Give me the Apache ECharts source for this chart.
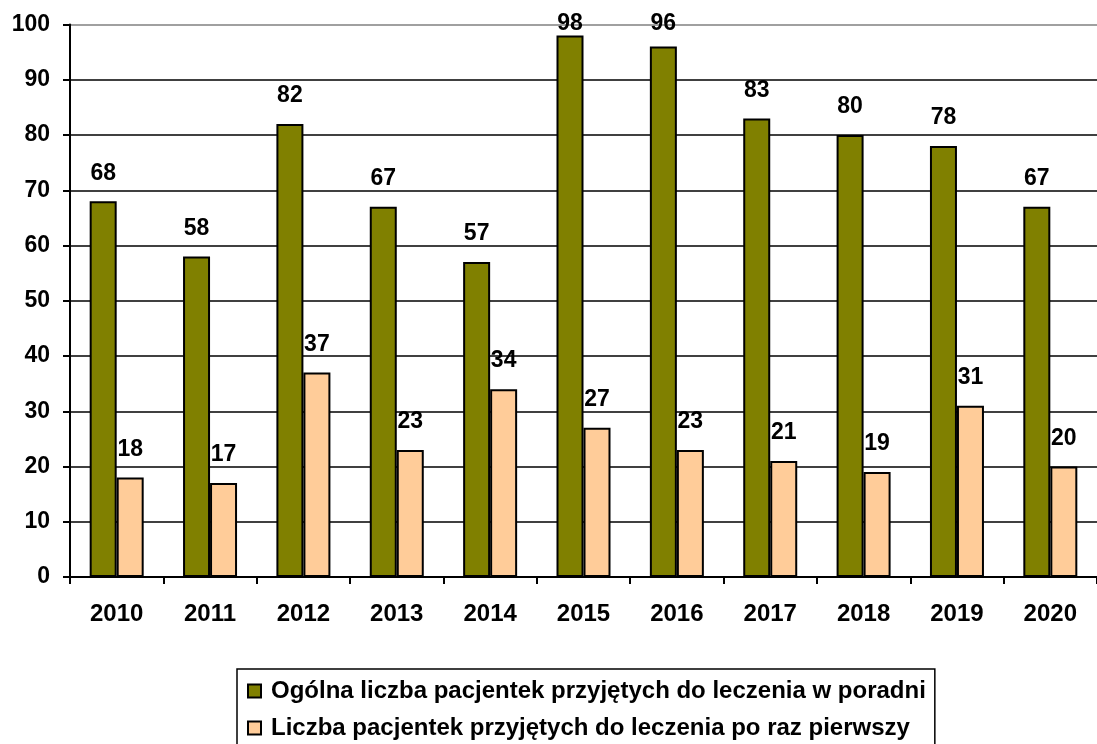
<!DOCTYPE html>
<html>
<head>
<meta charset="utf-8">
<script src="https://cdn.jsdelivr.net/npm/echarts@6/dist/echarts.min.js"></script>
<style>
  html, body { margin: 0; padding: 0; background: #fff; }
  #chart { width: 1097px; height: 744px; }
</style>
</head>
<body>
<div id="chart"></div>
<script>
  var years = ['2010', '2011', '2012', '2013', '2014', '2015', '2016', '2017', '2018', '2019', '2020'];
  var totalPatients = [68, 58, 82, 67, 57, 98, 96, 83, 80, 78, 67];
  var firstTimePatients = [18, 17, 37, 23, 34, 27, 23, 21, 19, 31, 20];
  var seriesNames = [
    'Ogólna liczba pacjentek przyjętych do leczenia w poradni',
    'Liczba pacjentek przyjętych do leczenia po raz pierwszy'
  ];

  var font = '"Liberation Sans", Arial, sans-serif';
  var myChart = echarts.init(document.getElementById('chart'));

  // like excel: a label is pushed down when it would leave the plot area
  function barData(values) {
    return values.map(function (v) {
      var barTop = 577 - v * 5.525;
      var d = Math.min(16.5, Math.max(0, barTop - 11.5 - 24));
      return {value: v, label: {distance: d}};
    });
  }

  var labelStyle = {
    show: true,
    position: 'top',
    color: '#000',
    fontFamily: font,
    fontWeight: 'bold',
    fontSize: 23
  };

  myChart.setOption({
    animation: false,
    backgroundColor: '#fff',
    grid: {
      left: 70,
      right: -14,
      top: 24.5,
      bottom: 167
    },
    legend: {
      orient: 'vertical',
      left: 237,
      top: 669,
      height: 140,
      padding: [10, 9, 12, 10],
      itemGap: 13,
      itemWidth: 13,
      itemHeight: 13,
      icon: 'rect',
      borderColor: '#000',
      borderWidth: 1.5,
      textStyle: {
        color: '#000',
        fontFamily: font,
        fontWeight: 'bold',
        fontSize: 24,
        padding: [0, 0, 0, 5]
      },
      data: seriesNames
    },
    xAxis: {
      type: 'category',
      data: years,
      axisLine: {lineStyle: {color: '#000', width: 2}},
      axisTick: {show: true, length: 7, lineStyle: {color: '#000', width: 2}},
      axisLabel: {
        margin: 25,
        color: '#000',
        fontFamily: font,
        fontWeight: 'bold',
        fontSize: 24
      }
    },
    yAxis: {
      type: 'value',
      min: 0,
      max: 100,
      interval: 10,
      axisLine: {show: true, lineStyle: {color: '#000', width: 2}},
      axisTick: {show: true, length: 7, lineStyle: {color: '#000', width: 2}},
      axisLabel: {
        margin: 20,
        color: '#000',
        fontFamily: font,
        fontWeight: 'bold',
        fontSize: 23
      },
      splitLine: {
        show: true,
        lineStyle: {
          color: ['#000', '#000', '#000', '#000', '#000', '#000', '#000', '#000', '#000', '#000', '#808080'],
          width: 1.5
        }
      }
    },
    series: [
      {
        name: seriesNames[0],
        type: 'bar',
        barWidth: 27,
        barGap: '0%',
        data: barData(totalPatients),
        itemStyle: {color: '#808000', borderColor: '#000', borderWidth: 2},
        label: labelStyle
      },
      {
        name: seriesNames[1],
        type: 'bar',
        barWidth: 27,
        barGap: '0%',
        data: barData(firstTimePatients),
        itemStyle: {color: '#FFCC99', borderColor: '#000', borderWidth: 2},
        label: labelStyle
      }
    ]
  });
</script>
</body>
</html>
